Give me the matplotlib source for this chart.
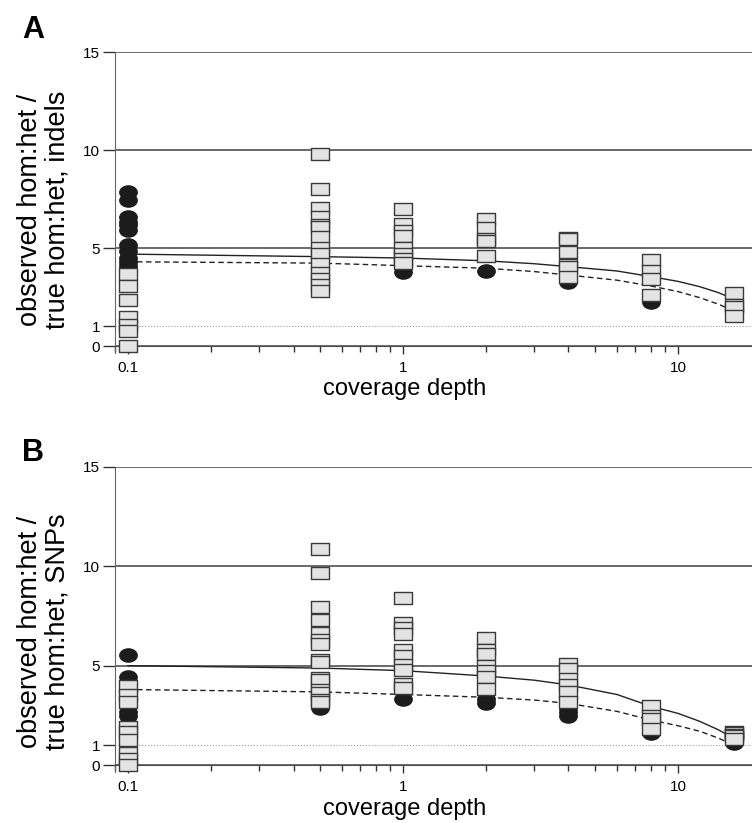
import numpy as np
import matplotlib.pyplot as plt
from matplotlib.path import Path

plt.rcParams['font.family'] = ['Liberation Sans', 'DejaVu Sans']

depths = [0.1, 0.5, 1, 2, 4, 8, 16]

# panel A (indels): grey squares and black circles per depth
a_squares = [
    [3.7, 3.05, 2.35, 1.5, 1.05, 0.75, 0.0],
    [9.8, 8.0, 7.05, 6.6, 6.2, 6.05, 5.55, 5.0, 4.7, 4.2, 3.75, 3.4, 3.1, 2.82],
    [7.0, 6.25, 5.85, 5.6, 5.0, 4.7, 4.45, 4.25],
    [6.5, 6.0, 5.45, 5.35, 4.6],
    [5.5, 5.45, 4.8, 4.15, 4.05, 3.5],
    [4.4, 3.85, 3.4, 2.6],
    [2.7, 2.1, 2.0, 1.55],
]
a_circles = [
    [7.85, 7.45, 6.6, 6.35, 6.15, 5.9, 5.15, 4.85, 4.5, 4.3, 4.1],
    [],
    [3.8],
    [3.85],
    [3.25],
    [2.25],
    [],
]

# panel B (SNPs)
b_squares = [
    [4.0, 3.5, 3.15, 1.9, 1.65, 1.25, 0.6, 0.3, 0.0],
    [10.85, 9.65, 7.95, 7.3, 6.65, 6.3, 6.1, 5.3, 5.2, 4.4, 4.3, 3.8, 3.6, 3.25, 3.15],
    [8.4, 7.15, 6.9, 6.6, 5.8, 5.5, 5.05, 4.8, 4.1, 3.9],
    [6.4, 5.8, 5.6, 5.0, 4.75, 4.45, 3.85],
    [5.1, 4.85, 4.35, 4.05, 3.7, 3.15],
    [2.95, 2.45, 2.3, 1.8],
    [1.65, 1.6, 1.5, 1.45, 1.3],
]
b_circles = [
    [5.55, 4.45, 2.65, 2.45],
    [2.85],
    [3.3],
    [3.1, 3.3],
    [2.45, 2.65, 2.85],
    [1.6],
    [1.1],
]

# expected curves
curve_x = [0.1, 0.5, 1, 2, 3, 4, 6, 8, 10, 12, 14, 16]
a_solid = [4.69, 4.56, 4.49, 4.35, 4.2, 4.05, 3.83, 3.54, 3.3, 3.03, 2.73, 2.4]
a_dashed = [4.3, 4.23, 4.1, 3.97, 3.8, 3.62, 3.36, 3.06, 2.78, 2.47, 2.14, 1.79]
b_solid = [5.0, 4.88, 4.75, 4.48, 4.27, 4.03, 3.55, 2.95, 2.6, 2.2, 1.78, 1.34]
b_dashed = [3.8, 3.68, 3.55, 3.41, 3.27, 3.1, 2.7, 2.26, 1.98, 1.7, 1.36, 1.0]

rect = Path([(-0.75, -0.5), (0.75, -0.5), (0.75, 0.5), (-0.75, 0.5), (-0.75, -0.5)],
            [Path.MOVETO, Path.LINETO, Path.LINETO, Path.LINETO, Path.CLOSEPOLY])
circ = Path.unit_circle()
ell = Path(circ.vertices * np.array([1.0, 0.76]), circ.codes)

fig = plt.figure(figsize=(7.52, 8.23), dpi=100)
axA = fig.add_axes([0.1529, 0.5712, 0.8471, 0.3656])
axB = fig.add_axes([0.1529, 0.0620, 0.8471, 0.3706])


def draw(ax, squares, circles, solid, dashed):
    for y in [0, 5, 10, 15]:
        ax.axhline(y, color='#505050', lw=1.2, zorder=1)
    ax.axhline(1, color='#9a9a9a', lw=0.8, ls=':', zorder=1)
    ax.plot(curve_x, solid, color='#222222', lw=1.0, zorder=2)
    ax.plot(curve_x, dashed, color='#222222', lw=1.0, ls=(0, (4, 2.5)), zorder=2)
    for d, vals in zip(depths, circles):
        if vals:
            ax.plot([d] * len(vals), vals, ls='none', marker=ell, ms=12.5,
                    mfc='#1c1c1c', mec='#1c1c1c', zorder=3, clip_on=False)
    for d, vals in zip(depths, squares):
        ax.plot([d] * len(vals), vals, ls='none', marker=rect, ms=12.5,
                mfc='#e3e3e3', mec='#3a3a3a', mew=1.0, zorder=4, clip_on=False)
    ax.set_xscale('log')
    ax.set_xlim(0.0897, 18.6)
    ax.set_ylim(-0.35, 15)
    ax.spines['top'].set_visible(False)
    ax.spines['right'].set_visible(False)
    ax.spines['bottom'].set_position(('data', 0))
    ax.spines['bottom'].set_color('#505050')
    ax.spines['left'].set_color('#666666')
    ax.set_yticks([0, 1, 5, 10, 15])
    ax.set_yticklabels(['0', '1', '5', '10', '15'])
    ax.tick_params(axis='y', length=8.6, width=1, color='#333333', labelsize=11, pad=2)
    ax.set_xticks([0.1, 1, 10])
    ax.set_xticklabels(['0.1', '1', '10'])
    ax.tick_params(axis='x', which='major', length=6, width=1, color='#333333',
                   labelsize=11, pad=5)
    ax.tick_params(axis='x', which='minor', length=4, width=1, color='#333333')
    ax.set_facecolor('none')


draw(axA, a_squares, a_circles, a_solid, a_dashed)
draw(axB, b_squares, b_circles, b_solid, b_dashed)

fig.text(405 / 752, 1 - 389 / 823, 'coverage depth', ha='center', va='center', fontsize=17)
fig.text(405 / 752, 1 - 809 / 823, 'coverage depth', ha='center', va='center', fontsize=17)
fig.text(44 / 752, 1 - 210 / 823, 'observed hom:het /\ntrue hom:het, indels', rotation=90,
         ha='center', va='center', fontsize=19.5, linespacing=1.05, multialignment='center')
fig.text(44 / 752, 1 - 632 / 823, 'observed hom:het /\ntrue hom:het, SNPs', rotation=90,
         ha='center', va='center', fontsize=19.5, linespacing=1.05, multialignment='center')
fig.text(33 / 752, 1 - 30 / 823, 'A', ha='center', va='center', fontsize=22, fontweight='bold')
fig.text(33 / 752, 1 - 453 / 823, 'B', ha='center', va='center', fontsize=22, fontweight='bold')

fig.savefig('out.png', dpi=100)
